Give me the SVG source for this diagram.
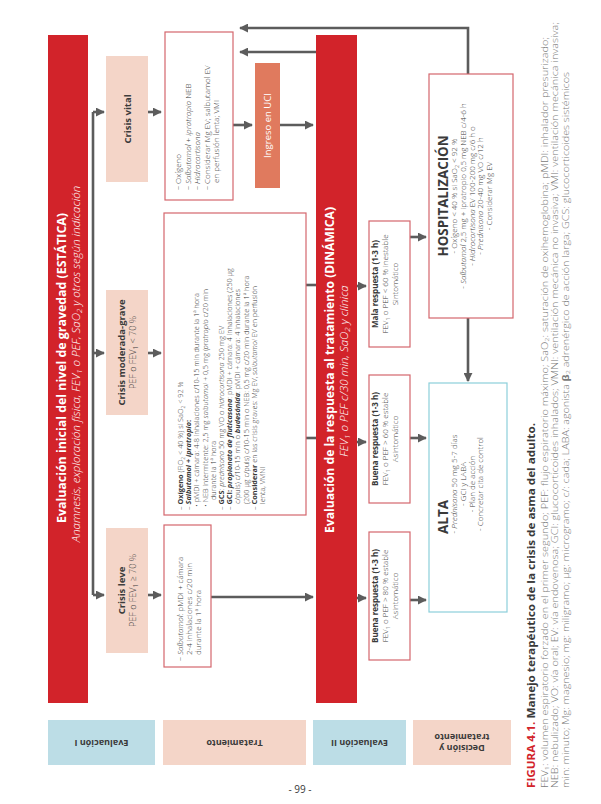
<svg xmlns="http://www.w3.org/2000/svg" width="601" height="804" viewBox="0 0 601 804">
<defs>
<style>
text{font-family:"Open Sans","Liberation Sans",sans-serif;fill:#3a3a3a}
.b{font-weight:700}
.i{font-style:italic}
.w{fill:#fff}
.m{text-anchor:middle}
.red{fill:#d2232a}
.sal{fill:#f4d5c8}
.blu{fill:#bcdde6}
.box{fill:#fff;stroke:#d4666d;stroke-width:1.2}
.alta{fill:#fff;stroke:#8ccfda;stroke-width:1.2}
.conn path{fill:none;stroke:#5c5c5c;stroke-width:2.6}
.cap{fill:#7a7a7a;font-weight:300}
</style>
<marker id="ah" viewBox="0 0 10 10" refX="9" refY="5" markerWidth="9" markerHeight="9" markerUnits="userSpaceOnUse" orient="auto"><path d="M0,0 L10,5 L0,10 z" fill="#5c5c5c"/></marker>
</defs>
<rect width="601" height="804" fill="#fff"/>

<g id="connectors" class="conn">
<path d="M93,112 V595"/>
<path d="M93,112 H104" marker-end="url(#ah)"/>
<path d="M93,353 H104" marker-end="url(#ah)"/>
<path d="M93,595 H104" marker-end="url(#ah)"/>
<path d="M148,112 H161" marker-end="url(#ah)"/>
<path d="M148,353 H161" marker-end="url(#ah)"/>
<path d="M148,595 H161" marker-end="url(#ah)"/>
<path d="M233,125 H252" marker-end="url(#ah)"/>
<path d="M280,125 H313" marker-end="url(#ah)"/>
<path d="M316,52 H240" marker-end="url(#ah)"/>
<path d="M468,74 V28 H240" marker-end="url(#ah)"/>
<path d="M306,285 H316"/>
<path d="M306,438 H316"/>
<path d="M211,597 H313" marker-end="url(#ah)"/>
<path d="M357,286 H366" marker-end="url(#ah)"/>
<path d="M357,442 H366" marker-end="url(#ah)"/>
<path d="M357,598 H366" marker-end="url(#ah)"/>
<path d="M410,237 H426" marker-end="url(#ah)"/>
<path d="M410,438 H426" marker-end="url(#ah)"/>
<path d="M410,600 H426" marker-end="url(#ah)"/>
<path d="M468,318 V381" marker-end="url(#ah)"/>
</g>

<g id="rotated" transform="matrix(0,-1,1,0,0,804)">

<g id="eval1">
<rect class="red" x="101" y="48" width="668" height="40"/>
<text class="b w m" x="436" y="65.5" font-size="12" textLength="310" lengthAdjust="spacingAndGlyphs">Evaluación inicial del nivel de gravedad (ESTÁTICA)</text>
<text class="i w m" x="440" y="80" font-size="11.5" font-weight="300">Anamnesis, exploración física, FEV<tspan dy="2" font-size="8">1</tspan><tspan dy="-2"> o PEF, SaO</tspan><tspan dy="2" font-size="8">2</tspan><tspan dy="-2"> y otros según indicación</tspan></text>
</g>

<g id="crisis-vital">
<rect class="sal" x="622" y="106" width="126" height="42"/>
<text class="b m" x="685" y="130.5" font-size="9.5">Crisis vital</text>
</g>
<g id="crisis-moderada">
<rect class="sal" x="389" y="106" width="125" height="42"/>
<text class="b m" x="451.5" y="124.5" font-size="9.5">Crisis moderada-grave</text>
<text class="m" x="451.5" y="135.5" font-size="9" font-weight="300">PEF o FEV<tspan dy="2" font-size="6.5">1</tspan><tspan dy="-2"> &lt; 70 %</tspan></text>
</g>
<g id="crisis-leve">
<rect class="sal" x="151" y="106" width="125" height="42"/>
<text class="b m" x="213.5" y="124.5" font-size="9.5">Crisis leve</text>
<text class="m" x="213.5" y="135.5" font-size="9" font-weight="300">PEF o FEV<tspan dy="2" font-size="6.5">1</tspan><tspan dy="-2"> ≥ 70 %</tspan></text>
</g>

<g id="trat-vital" font-size="8" font-weight="300">
<rect class="box" x="604" y="165" width="168" height="68"/>
<text x="614" y="181">– Oxígeno</text>
<text x="614" y="190.5">– <tspan class="i">Salbutamol</tspan> + <tspan class="i">ipratropio</tspan> NEB</text>
<text x="614" y="200">– <tspan class="i">Hidrocortisona</tspan></text>
<text x="614" y="209.5">– Considerar Mg EV; salbutamol EV</text>
<text x="621" y="219">en perfusión lenta; VMI</text>
</g>

<g id="uci">
<rect fill="#e07a5e" x="616" y="255" width="125" height="25"/>
<text class="w m" x="678.5" y="271" font-size="9.5">Ingreso en UCI</text>
</g>

<g id="trat-moderada" font-size="7.3" font-weight="300">
<rect class="box" x="289" y="164" width="302" height="142"/>
<text x="294" y="183">– <tspan class="b">Oxígeno</tspan> (FiO<tspan dy="1.5" font-size="5">2</tspan><tspan dy="-1.5"> &lt; 40 %) si SaO</tspan><tspan dy="1.5" font-size="5">2</tspan><tspan dy="-1.5"> &lt; 92 %</tspan></text>
<text x="294" y="191.2">– <tspan class="b i">Salbutamol</tspan><tspan class="b"> + </tspan><tspan class="b i">ipratropio</tspan><tspan class="b">:</tspan></text>
<text x="297" y="199.4">• pMDI + cámara: 4-8 inhalaciones c/10-15 min durante la 1ª hora</text>
<text x="297" y="207.6">• NEB intermitente: 2,5 mg <tspan class="i">salbutamol</tspan> + 0,5 mg <tspan class="i">ipratropio</tspan> c/20 min</text>
<text x="304" y="215.8">durante la 1ª hora</text>
<text x="294" y="224">– <tspan class="b">GCS</tspan>: <tspan class="i">prednisona</tspan> 50 mg VO o <tspan class="i">hidrocortisona</tspan> 250 mg EV</text>
<text x="294" y="232.2">– <tspan class="b">GCI: </tspan><tspan class="b i">propionato de fluticasona</tspan>: pMDI + cámara: 4 inhalaciones (250 µg</text>
<text x="300" y="240.4">c/puls) c/10-15 min o <tspan class="b i">budesónida</tspan>: pMDI + cámara: 4 inhalaciones</text>
<text x="300" y="248.6">(200 µg c/puls) c/10-15 min o NEB: 0,5 mg c/20 min durante la 1ª hora</text>
<text x="294" y="256.8">– <tspan class="b">Considerar</tspan> en las crisis graves: Mg EV, <tspan class="i">salbutamol</tspan> EV en perfusión</text>
<text x="300" y="265">lenta, VMNI</text>
</g>

<g id="trat-leve" font-size="8" font-weight="300">
<rect class="box" x="137" y="164" width="142" height="47"/>
<text x="143" y="183">– <tspan class="i">Salbutamol</tspan>: pMDI + cámara</text>
<text x="149" y="192">2-4 inhalaciones c/20 min</text>
<text x="149" y="201">durante la 1ª hora</text>
</g>

<g id="eval2">
<rect class="red" x="101" y="316" width="668" height="41"/>
<text class="b w m" x="434" y="333.5" font-size="12" textLength="326" lengthAdjust="spacingAndGlyphs">Evaluación de la respuesta al tratamiento (DINÁMICA)</text>
<text class="i w m" x="433" y="348" font-size="11.5" font-weight="300">FEV<tspan dy="2" font-size="8">1</tspan><tspan dy="-2"> o PEF c/30 min, SaO</tspan><tspan dy="2" font-size="8">2</tspan><tspan dy="-2"> y clínica</tspan></text>
</g>

<g id="mala-respuesta" font-size="8" font-weight="300">
<rect class="box" x="457" y="369" width="126" height="41"/>
<text class="b m" x="520" y="378">Mala respuesta (1-3 h)</text>
<text class="m" x="520" y="388">FEV<tspan dy="1.5" font-size="5.5">1</tspan><tspan dy="-1.5"> o PEF &lt; 60 % inestable</tspan></text>
<text class="m" x="520" y="397.5">Sintomático</text>
</g>
<g id="buena-respuesta-1" font-size="8" font-weight="300">
<rect class="box" x="301" y="369" width="128" height="41"/>
<text class="b m" x="365" y="378">Buena respuesta (1-3 h)</text>
<text class="m" x="365" y="388">FEV<tspan dy="1.5" font-size="5.5">1</tspan><tspan dy="-1.5"> o PEF &gt; 60 % estable</tspan></text>
<text class="m" x="365" y="397.5">Asintomático</text>
</g>
<g id="buena-respuesta-2" font-size="8" font-weight="300">
<rect class="box" x="144" y="369" width="128" height="41"/>
<text class="b m" x="208" y="378">Buena respuesta (1-3 h)</text>
<text class="m" x="208" y="388">FEV<tspan dy="1.5" font-size="5.5">1</tspan><tspan dy="-1.5"> o PEF &gt; 80 % estable</tspan></text>
<text class="m" x="208" y="397.5">Asintomático</text>
</g>

<g id="hospitalizacion" font-size="8" font-weight="300">
<rect class="box" x="486" y="429" width="244" height="84"/>
<text class="b m" x="608" y="448" font-size="13.5" textLength="121" lengthAdjust="spacingAndGlyphs">HOSPITALIZACIÓN</text>
<text class="m" x="608" y="457">- Oxígeno &lt; 40 % si SaO<tspan dy="1.5" font-size="5.5">2</tspan><tspan dy="-1.5"> &lt; 92 %</tspan></text>
<text class="m" x="608" y="466">- <tspan class="i">Salbutamol</tspan> 2,5 mg + ipratropio 0,5 mg NEB c/4-6 h</text>
<text class="m" x="608" y="474.5">- <tspan class="i">Hidrocortisona</tspan> EV 100-200 mg c/6 h o</text>
<text class="m" x="608" y="483">- <tspan class="i">Prednisona</tspan> 20-40 mg VO c/12 h</text>
<text class="m" x="608" y="491.5">- Considerar Mg EV</text>
</g>

<g id="alta" font-size="8" font-weight="300">
<rect class="alta" x="192" y="429" width="229" height="78"/>
<text class="b m" x="287" y="448" font-size="13.5">ALTA</text>
<text class="m" x="320" y="457">- <tspan class="i">Prednisona</tspan> 50 mg 5-7 días</text>
<text class="m" x="320" y="466">- GCI y LABA</text>
<text class="m" x="320" y="474.5">- Plan de acción</text>
<text class="m" x="320" y="483">- Concretar cita de control</text>
</g>

<g id="caption">
<text class="b" x="16" y="535" font-size="10" textLength="365" lengthAdjust="spacingAndGlyphs"><tspan fill="#d2232a">FIGURA 4.1.</tspan> Manejo terapéutico de la crisis de asma del adulto.</text>
<text class="cap" x="16" y="547.5" font-size="8.8" textLength="751" lengthAdjust="spacingAndGlyphs">FEV<tspan dy="1.5" font-size="6">1</tspan><tspan dy="-1.5">: volumen espiratorio forzado en el primer segundo; PEF: flujo espiratorio máximo; SaO</tspan><tspan dy="1.5" font-size="6">2</tspan><tspan dy="-1.5">: saturación de oxihemoglobina; pMDI: inhalador presurizado;</tspan></text>
<text class="cap" x="16" y="558" font-size="8.8" textLength="766" lengthAdjust="spacingAndGlyphs">NEB: nebulizado; VO: vía oral; EV: vía endovenosa; GCI: glucocorticoides inhalados; VMNI: ventilación mecánica no invasiva; VMI: ventilación mecánica invasiva;</text>
<text class="cap" x="16" y="568.5" font-size="8.8" textLength="716" lengthAdjust="spacingAndGlyphs">min: minuto; Mg: magnesio; mg: miligramo; µg: microgramo; c/: cada; LABA: agonista <tspan font-weight="700">β</tspan><tspan dy="1.5" font-size="6">2</tspan><tspan dy="-1.5"> adrenérgico de acción larga; GCS: glucocorticoides sistémicos</tspan></text>
</g>
</g>

<g id="label-eval1">
<rect class="blu" x="48" y="720" width="107" height="45"/>
<text class="b m" transform="rotate(180 101.5 742.5)" x="101.5" y="745.5" font-size="9">Evaluación I</text>
</g>
<g id="label-tratamiento">
<rect class="sal" x="163" y="720" width="143" height="45"/>
<text class="b m" transform="rotate(180 234.5 742.5)" x="234.5" y="745.5" font-size="9">Tratamiento</text>
</g>
<g id="label-eval2">
<rect class="blu" x="313" y="720" width="93" height="45"/>
<text class="b m" transform="rotate(180 359.5 742.5)" x="359.5" y="745.5" font-size="9">Evaluación II</text>
</g>
<g id="label-decision">
<rect class="sal" x="413" y="720" width="98" height="45"/>
<text class="b m" transform="rotate(180 462 742.5)" x="462" y="740.5" font-size="9">Decisión y</text>
<text class="b m" transform="rotate(180 462 742.5)" x="462" y="751" font-size="9">tratamiento</text>
</g>

<text id="page-number" class="m" x="300" y="793" font-size="10" fill="#555">- 99 -</text>
</svg>
